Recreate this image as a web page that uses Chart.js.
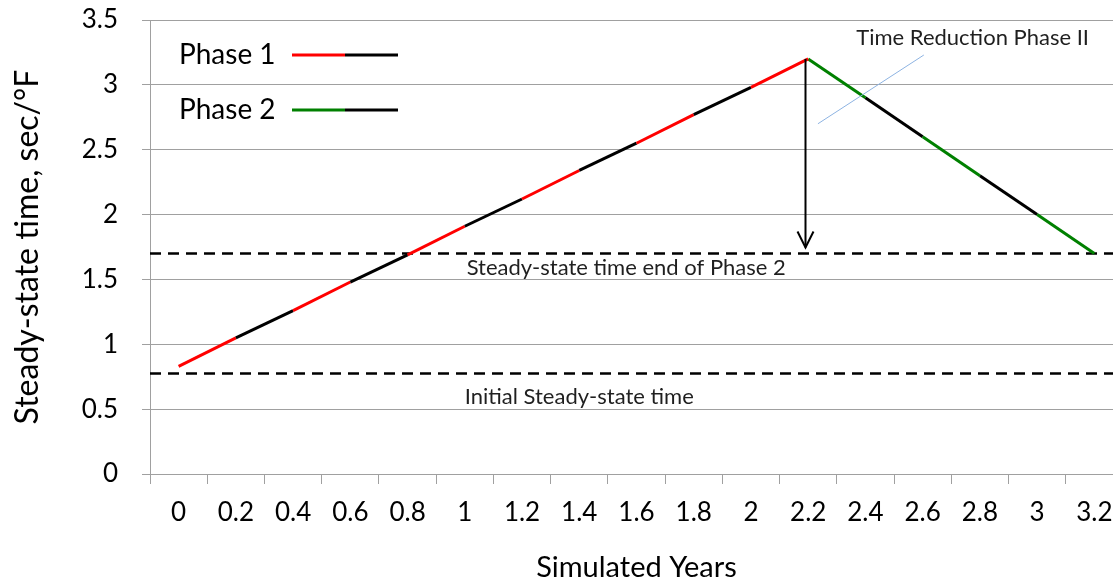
<!DOCTYPE html>
<html>
<head>
<meta charset="utf-8">
<script src="https://cdn.jsdelivr.net/npm/chart.js@4.4.0/dist/chart.umd.min.js"></script>
<style>
  html, body { margin: 0; padding: 0; overflow: hidden; background: #fff; }
  #wrap { width: 1123px; height: 585px; position: relative; }
</style>
</head>
<body>
<div id="wrap"><canvas id="c"></canvas></div>
<script>
// ---- data ----
const years = ['0','0.2','0.4','0.6','0.8','1','1.2','1.4','1.6','1.8','2','2.2','2.4','2.6','2.8','3','3.2'];
const phase1 = [0.83, 1.05, 1.26, 1.48, 1.69, 1.91, 2.12, 2.34, 2.55, 2.77, 2.98, 3.2, null, null, null, null, null];
const phase2 = [null, null, null, null, null, null, null, null, null, null, null, 3.2, 2.9, 2.6, 2.3, 2.0, 1.7];
const yTicks = [0, 0.5, 1, 1.5, 2, 2.5, 3, 3.5];
const initialSteady = 0.78;
const endPhase2Steady = 1.7;
const peakIndex = 11;

const FONT = 'Lato, "Open Sans", sans-serif';
const GRID = '#a0a0a0';
const RED = '#ff0000', GREEN = '#008000', BLACK = '#000000';

const overlay = {
  id: 'overlay',
  beforeDatasetsDraw(chart) {
    const {ctx, chartArea: a, scales: {y}} = chart;
    ctx.save();
    ctx.strokeStyle = '#000';
    ctx.lineWidth = 2.5;
    ctx.setLineDash([11, 7]);
    [initialSteady, endPhase2Steady].forEach(v => {
      const py = Math.round(y.getPixelForValue(v)) + 0.5;
      ctx.beginPath(); ctx.moveTo(a.left, py); ctx.lineTo(a.right, py); ctx.stroke();
    });
    ctx.restore();
  },
  afterDatasetsDraw(chart) {
    const {ctx, chartArea: a, scales: {x, y}} = chart;
    ctx.save();
    // vertical arrow from peak down to end-of-phase-2 level
    const ax = Math.round(x.getPixelForValue(peakIndex - 0.06)) + 0.5;
    const yTop = y.getPixelForValue(phase1[peakIndex]);
    const yTip = y.getPixelForValue(endPhase2Steady) - 6;
    ctx.strokeStyle = '#000'; ctx.lineWidth = 2; ctx.setLineDash([]);
    ctx.beginPath(); ctx.moveTo(ax, yTop); ctx.lineTo(ax, yTip); ctx.stroke();
    ctx.beginPath(); ctx.moveTo(ax - 8, yTip - 16); ctx.lineTo(ax, yTip); ctx.lineTo(ax + 8, yTip - 16); ctx.stroke();
    // callout leader line
    ctx.strokeStyle = '#8db3e2'; ctx.lineWidth = 1;
    ctx.beginPath();
    ctx.moveTo(x.getPixelForValue(11.17), y.getPixelForValue(2.70));
    ctx.lineTo(x.getPixelForValue(13.02), y.getPixelForValue(3.23));
    ctx.stroke();
    // annotation texts
    ctx.fillStyle = '#1f1f1f';
    ctx.font = '22px ' + FONT;
    ctx.textBaseline = 'middle';
    ctx.textAlign = 'left';
    ctx.fillText('Time Reduction Phase II', x.getPixelForValue(11.84), y.getPixelForValue(3.36));
    ctx.textAlign = 'center';
    ctx.fillText('Steady-state time end of Phase 2', x.getPixelForValue(7.82), y.getPixelForValue(1.59));
    ctx.fillText('Initial Steady-state time', x.getPixelForValue(7.0), y.getPixelForValue(0.596));
    // legend
    const legend = [['Phase 1', RED, 3.23], ['Phase 2', GREEN, 2.806]];
    ctx.font = '28px ' + FONT;
    ctx.textAlign = 'left';
    legend.forEach(([label, col, v]) => {
      const ly = Math.round(y.getPixelForValue(v));
      const lx = a.left + 29;
      ctx.fillStyle = '#000';
      ctx.fillText(label, lx, ly);
      ctx.lineWidth = 3;
      ctx.strokeStyle = col;
      ctx.beginPath(); ctx.moveTo(lx + 113, ly); ctx.lineTo(lx + 166, ly); ctx.stroke();
      ctx.strokeStyle = BLACK;
      ctx.beginPath(); ctx.moveTo(lx + 166, ly); ctx.lineTo(lx + 219, ly); ctx.stroke();
    });
    ctx.restore();
  }
};

new Chart(document.getElementById('c'), {
  type: 'line',
  data: {
    labels: years,
    datasets: [
      {
        label: 'Phase 1', data: phase1, borderWidth: 3, pointRadius: 0, tension: 0,
        borderColor: RED, spanGaps: false,
        segment: { borderColor: c => (c.p0DataIndex % 2 === 0 ? RED : BLACK) }
      },
      {
        label: 'Phase 2', data: phase2, borderWidth: 3, pointRadius: 0, tension: 0,
        borderColor: GREEN, spanGaps: false,
        segment: { borderColor: c => ((c.p0DataIndex - peakIndex) % 2 === 0 ? GREEN : BLACK) }
      }
    ]
  },
  options: {
    responsive: true, maintainAspectRatio: false, animation: false,
    layout: { padding: { top: 20, right: 0, left: 0, bottom: 0 } },
    plugins: { legend: { display: false }, tooltip: { enabled: false } },
    scales: {
      x: {
        type: 'category', offset: true,
        grid: { offset: true, drawOnChartArea: false, drawTicks: true, tickLength: 10, color: GRID },
        border: { color: GRID },
        ticks: { color: '#000', font: { family: FONT, size: 26 }, padding: 13, maxRotation: 0, autoSkip: false },
        title: { display: true, text: 'Simulated Years', color: '#000', font: { family: FONT, size: 29 }, padding: { top: 0, bottom: 0 } },
        afterFit: s => { s.height = 111; s.paddingLeft = 0; s.paddingRight = 0; }
      },
      y: {
        min: 0, max: 3.5,
        afterBuildTicks: s => { s.ticks = yTicks.map(v => ({ value: v })); },
        grid: { color: GRID, tickLength: 8, drawTicks: true },
        border: { color: GRID },
        ticks: { color: '#000', font: { family: FONT, size: 26 }, padding: 24, callback: v => String(v) },
        title: { display: true, text: 'Steady-state time, sec/°F', color: '#000', font: { family: FONT, size: 32 }, padding: { top: 8, bottom: 0 } },
        afterFit: s => { s.width = 150; s.paddingTop = 0; s.paddingBottom = 0; }
      }
    }
  },
  plugins: [overlay]
});
</script>
</body>
</html>
